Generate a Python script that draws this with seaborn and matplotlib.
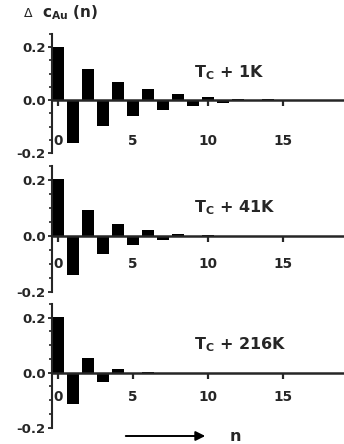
import numpy as np
import seaborn as sns
import matplotlib.pyplot as plt
from matplotlib.ticker import MultipleLocator

# n-Positionen und Amplituden
n = list(range(19))
delta_1k = [0.201, -0.163, 0.119, -0.098, 0.069, -0.060, 0.040, -0.038, 0.021, -0.021,
            0.011, -0.010, 0.005, -0.003, 0.002, -0.001, 0.001, 0.0, 0.0]
delta_41k = [0.202, -0.139, 0.093, -0.065, 0.043, -0.031, 0.021, -0.015, 0.008, -0.004,
             0.002, -0.001, 0.0, 0.0, 0.0, 0.0, 0.0, 0.0, 0.0]
delta_216k = [0.201, -0.112, 0.052, -0.033, 0.012, -0.005, 0.002, -0.001, 0.0, 0.0,
              0.0, 0.0, 0.0, 0.0, 0.0, 0.0, 0.0, 0.0, 0.0]
etiquetas = [r'T$_\mathrm{C}$ + 1K', r'T$_\mathrm{C}$ + 41K', r'T$_\mathrm{C}$ + 216K']
x_ticks = [0, 5, 10, 15]
y_ticks = [-0.2, 0.0, 0.2]
y_labels = ['-0.2', '0.0', '0.2']

sns.set_style('ticks')
plt.rcParams['font.family'] = ['DejaVu Sans']
plt.rcParams['font.weight'] = 'bold'
plt.rcParams['mathtext.fontset'] = 'custom'
plt.rcParams['mathtext.rm'] = 'DejaVu Sans:bold'
plt.rcParams['mathtext.it'] = 'DejaVu Sans:bold'
plt.rcParams['mathtext.bf'] = 'DejaVu Sans:bold'

W, H = 344, 444
fig = plt.figure(figsize=(W / 100, H / 100), dpi=100)

# (top px, bottom px, pad for x labels)
paneles = [(33.8, 153.0, 20), (166.0, 292.0, 10.5), (304.0, 427.7, 8)]
datos = [delta_1k, delta_41k, delta_216k]

left = 52 / W
x0, x1 = -0.4, 19.07
for (top, bot, pad), vals, lab in zip(paneles, datos, etiquetas):
    ax = fig.add_axes([left, 1 - bot / H, 1 - left, (bot - top) / H])
    sns.barplot(x=n, y=vals, ax=ax, native_scale=True, width=0.82, color='black',
                saturation=1, edgecolor='none', linewidth=0, errorbar=None)
    ax.set_xlim(x0, x1)
    ax.set_ylim(-0.2, 0.25)
    ax.set_xlabel('')
    ax.set_ylabel('')
    ax.spines['top'].set_visible(False)
    ax.spines['right'].set_visible(False)
    ax.spines['bottom'].set_position(('data', 0))
    ax.spines['bottom'].set_linewidth(1.8)
    ax.spines['bottom'].set_zorder(5)
    ax.spines['left'].set_linewidth(1.5)
    ax.set_xticks(x_ticks)
    ax.set_xticklabels([str(t) for t in x_ticks])
    ax.set_yticks(y_ticks)
    ax.set_yticklabels(y_labels)
    ax.yaxis.set_minor_locator(MultipleLocator(0.05))
    ax.tick_params(axis='x', direction='out', length=4.3, width=1.6, pad=pad, labelsize=9.8)
    ax.tick_params(axis='y', which='major', direction='out', length=3, width=1.3, pad=1.5, labelsize=9.5)
    ax.tick_params(axis='y', which='minor', direction='out', length=2, width=1.2)
    ax.text(9.1, 0.085, lab, fontsize=11.5, ha='left', va='baseline')
    ax.set_facecolor('none')

fig.text(24 / W, 1 - 17 / H, 'Δ', fontsize=9, fontweight='normal', ha='left', va='baseline')
fig.text(42 / W, 1 - 17 / H, r'c$_\mathrm{Au}$ (n)', fontsize=11, ha='left', va='baseline')
fig.add_artist(plt.Annotation('', xy=(208 / W, 1 - 436 / H), xytext=(123 / W, 1 - 436 / H),
                              xycoords='figure fraction', textcoords='figure fraction',
                              arrowprops=dict(arrowstyle='-|>', lw=1.4, color='black', mutation_scale=14)))
fig.text(235 / W, 1 - 436 / H, 'n', fontsize=11.5, ha='center', va='center')

fig.savefig('out.png', dpi=100)
